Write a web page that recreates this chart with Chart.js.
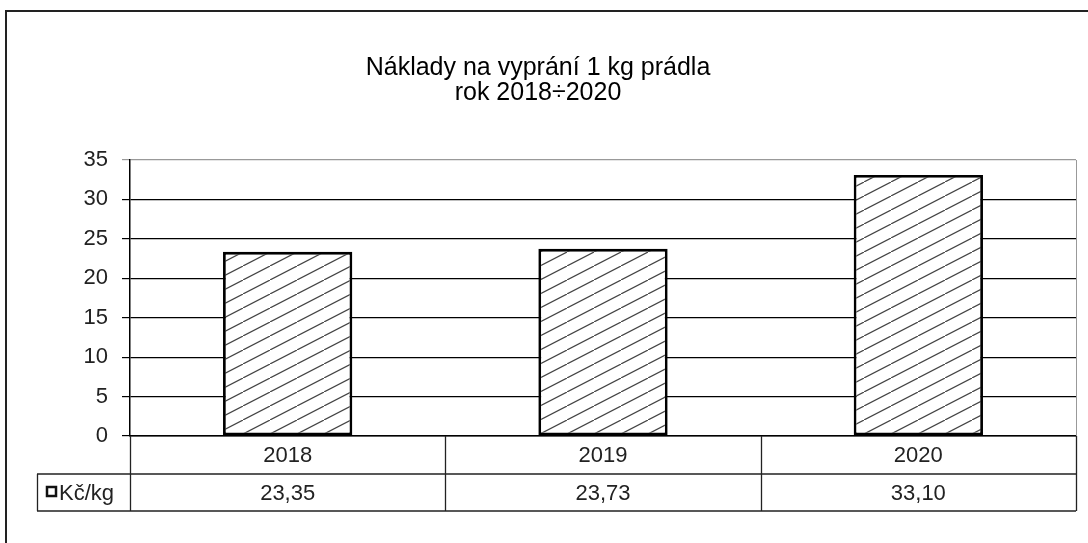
<!DOCTYPE html>
<html>
<head>
<meta charset="utf-8">
<script src="https://cdn.jsdelivr.net/npm/chart.js@4"></script>
<style>
  html, body { margin: 0; padding: 0; background: #fff; }
  #wrap { width: 1088px; height: 543px; }
</style>
</head>
<body>
<div id="wrap"><canvas id="costChart" width="1088" height="543"></canvas></div>
<script>
// data
const years = ['2018', '2019', '2020'];
const costPerKg = [23.35, 23.73, 33.10];
const seriesName = 'Kč/kg';
const titleLines = ['Náklady na vyprání 1 kg prádla', 'rok 2018÷2020'];
const yMin = 0;
const yMax = 35;
const yStep = 5;

const FONT = "'Liberation Sans', Arial, sans-serif";

// hatch fill like the old excel "wide upward diagonal"
function makeHatch() {
    const w = 27, h = 14;
    const c = document.createElement('canvas');
    c.width = w;
    c.height = h;
    const g = c.getContext('2d');
    g.fillStyle = '#fff';
    g.fillRect(0, 0, w, h);
    g.strokeStyle = '#444';
    g.lineWidth = 1.2;
    g.beginPath();
    g.moveTo(-w, 2 * h);
    g.lineTo(2 * w, -h);
    g.stroke();
    return g.createPattern(c, 'repeat');
}

// outer frame + right edge of plot area
const framePlugin = {
    id: 'frame',
    beforeDraw(chart) {
        const g = chart.ctx;
        g.save();
        g.strokeStyle = '#222';
        g.lineWidth = 2;
        g.beginPath();
        g.moveTo(6, 543);
        g.lineTo(6, 11);
        g.lineTo(1088, 11);
        g.stroke();
        g.restore();
    },
    afterDatasetsDraw(chart) {
        const a = chart.chartArea;
        const g = chart.ctx;
        g.save();
        g.strokeStyle = '#999';
        g.lineWidth = 1;
        g.beginPath();
        g.moveTo(a.right + 0.5, a.top);
        g.lineTo(a.right + 0.5, a.bottom);
        g.stroke();
        g.restore();
    }
};

// data table under the axis
const tablePlugin = {
    id: 'dataTable',
    afterDraw(chart) {
        const x = chart.scales.x;
        const g = chart.ctx;
        const top = chart.chartArea.bottom;
        const mid = top + 38;
        const bot = top + 75;
        const labelLeft = 37;

        const edges = [x.left];
        for (let i = 0; i < years.length - 1; i++) {
            edges.push((x.getPixelForValue(i) + x.getPixelForValue(i + 1)) / 2);
        }
        edges.push(x.right);

        g.save();
        g.strokeStyle = '#222';
        g.lineWidth = 1.3;
        g.beginPath();
        edges.forEach(e => {
            const px = Math.round(e) + 0.5;
            g.moveTo(px, top);
            g.lineTo(px, bot);
        });
        g.moveTo(labelLeft, mid);
        g.lineTo(x.right, mid);
        g.moveTo(labelLeft, bot);
        g.lineTo(x.right, bot);
        g.moveTo(labelLeft + 0.5, mid);
        g.lineTo(labelLeft + 0.5, bot);
        g.stroke();

        // legend key
        g.fillStyle = '#fff';
        g.lineWidth = 2.5;
        g.strokeStyle = '#111';
        g.fillRect(47, 487, 9, 9);
        g.strokeRect(47, 487, 9, 9);

        g.font = '22px ' + FONT;
        g.fillStyle = '#222';
        g.textBaseline = 'middle';
        g.textAlign = 'left';
        g.fillText(seriesName, 59, (mid + bot) / 2 + 1);

        g.textAlign = 'center';
        costPerKg.forEach((v, i) => {
            g.fillText(v.toFixed(2).replace('.', ','), x.getPixelForValue(i), (mid + bot) / 2 + 1);
        });
        g.restore();
    }
};

const ctx = document.getElementById('costChart');

new Chart(ctx, {
    type: 'bar',
    data: {
        labels: years,
        datasets: [
            {
                label: seriesName,
                data: costPerKg,
                backgroundColor: makeHatch(),
                borderColor: '#000',
                borderWidth: 2.8,
                borderSkipped: false,
                barPercentage: 0.41,
                categoryPercentage: 1
            }
        ]
    },
    options: {
        responsive: false,
        animation: false,
        devicePixelRatio: 1,
        layout: {
            padding: { left: 0, right: 12, top: 0, bottom: 0 }
        },
        plugins: {
            legend: { display: false },
            tooltip: { enabled: false },
            title: {
                display: true,
                text: titleLines,
                color: '#000',
                font: { family: FONT, size: 25, weight: 'normal', lineHeight: 1.0 },
                padding: { top: 56, bottom: 54 }
            }
        },
        scales: {
            x: {
                grid: { display: false, drawTicks: false },
                border: { display: true, color: '#000', width: 1.5 },
                ticks: {
                    color: '#222',
                    padding: 7,
                    font: { family: FONT, size: 22 }
                },
                afterFit(s) { s.height = 107; }
            },
            y: {
                min: yMin,
                max: yMax,
                ticks: {
                    stepSize: yStep,
                    color: '#222',
                    padding: 14,
                    font: { family: FONT, size: 22 }
                },
                grid: {
                    color: c => (c.tick && c.tick.value === yMax ? '#999' : '#000'),
                    lineWidth: 1.2,
                    drawTicks: true,
                    tickLength: 8
                },
                border: { display: true, color: '#000', width: 1.5 },
                afterFit(s) { s.width = 130; }
            }
        }
    },
    plugins: [framePlugin, tablePlugin]
});
</script>
</body>
</html>
